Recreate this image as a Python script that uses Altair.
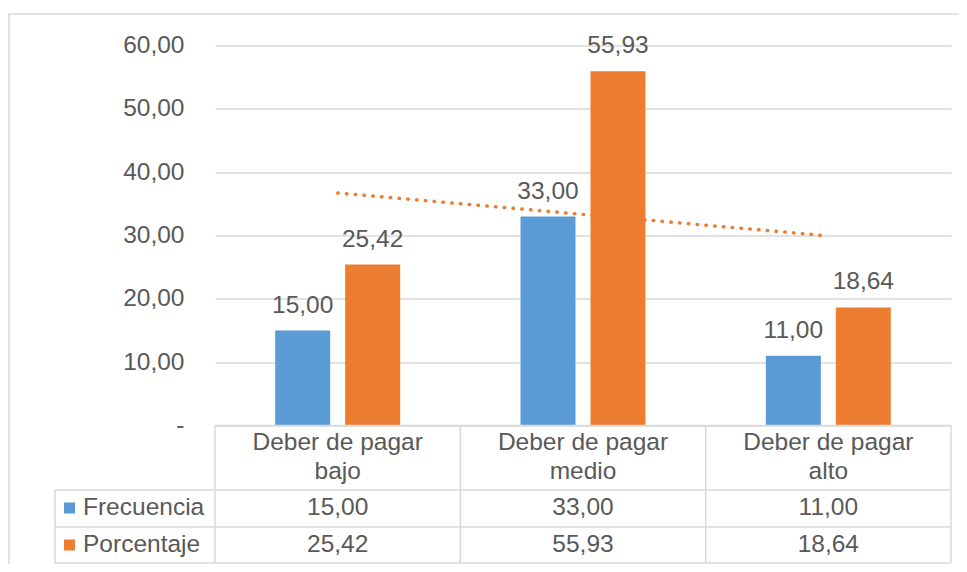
import altair as alt
import pandas as pd

categories = ["Deber de pagar bajo", "Deber de pagar medio", "Deber de pagar alto"]
series = ["Frecuencia", "Porcentaje"]
frecuencia = [15.00, 33.00, 11.00]
porcentaje = [25.42, 55.93, 18.64]
y_ticks = [0, 10, 20, 30, 40, 50, 60]

colors = ["#5B9BD5", "#ED7D31"]
TXT = "#595959"
GRID = "#D9D9D9"
FONT = "Liberation Sans"
FS = 24.5

rows = []
for i, c in enumerate(categories):
    rows.append({"cat": c, "series": "Frecuencia", "value": frecuencia[i], "idx": i + 1})
    rows.append({"cat": c, "series": "Porcentaje", "value": porcentaje[i], "idx": i + 1})
df = pd.DataFrame(rows)
cats_df = pd.DataFrame({"cat": categories})
one = pd.DataFrame({"k": [0]})

W, H = 736, 380
ROW_Y = {"Frecuencia": 462.5, "Porcentaje": 499.5}
LINES_Y = [444.5, 481.5, 517.5]

label_expr = "replace(format(datum.value, '.2f'), '.', ',')"

x_scale = alt.Scale(paddingInner=0, paddingOuter=0)
x_enc = alt.X("cat:N", sort=categories, scale=x_scale, axis=None)
xoff = alt.XOffset("series:N", sort=series,
                   scale=alt.Scale(paddingInner=0.214, paddingOuter=0.86))
y_enc = alt.Y(
    "value:Q",
    scale=alt.Scale(domain=[0, 60], nice=False, zero=True),
    axis=alt.Axis(
        values=y_ticks, title=None, domain=False, ticks=False, labelPadding=31,
        grid=True, gridColor=GRID, gridWidth=1.5,
        labelFont=FONT, labelFontSize=FS, labelColor=TXT,
        labelExpr="datum.value == 0 ? '-\u00a0\u00a0' : replace(format(datum.value, '.2f'), '.', ',')",
    ),
)
color_enc = alt.Color("series:N", sort=series,
                      scale=alt.Scale(domain=series, range=colors), legend=None)

base = alt.Chart(df)

frame = alt.Chart(one).mark_rect(fill="transparent", stroke=GRID, strokeWidth=1.5).encode(
    x=alt.value(-206), x2=alt.value(780), y=alt.value(-31.5), y2=alt.value(600)
)

bars = base.mark_bar().encode(x=x_enc, xOffset=xoff, y=y_enc, color=color_enc)

labels = base.transform_calculate(lbl=label_expr).mark_text(
    baseline="alphabetic", dy=-18, font=FONT, fontSize=FS, color=TXT
).encode(x=x_enc, xOffset=xoff, y="value:Q", text="lbl:N")

trend = base.transform_filter(alt.datum.series == "Porcentaje").transform_regression(
    "idx", "value", method="linear", extent=[1, 3]
).mark_line(color="#ED7D31", strokeWidth=3.5, strokeDash=[0.5, 8.3], strokeCap="round").encode(
    x=alt.X("idx:Q", scale=alt.Scale(domain=[0.5, 3.5], nice=False, zero=False), axis=None),
    y="value:Q",
)

# data table
table_top = alt.Chart(one).mark_rule(color=GRID, strokeWidth=1.5).encode(
    x=alt.value(0), x2=alt.value(W), y=alt.value(H)
)
hlines = [
    alt.Chart(one).mark_rule(color=GRID, strokeWidth=1.5).encode(
        x=alt.value(-160), x2=alt.value(W), y=alt.value(yy)
    )
    for yy in LINES_Y
]
vlines = alt.Chart(cats_df).mark_rule(color=GRID, strokeWidth=1.5).encode(
    x=alt.X("cat:N", sort=categories, scale=x_scale, axis=None, bandPosition=0),
    y=alt.value(H), y2=alt.value(LINES_Y[-1]),
)
vright = alt.Chart(one).mark_rule(color=GRID, strokeWidth=1.5).encode(
    x=alt.value(W), y=alt.value(H), y2=alt.value(LINES_Y[-1])
)
vleft = alt.Chart(one).mark_rule(color=GRID, strokeWidth=1.5).encode(
    x=alt.value(-160), y=alt.value(LINES_Y[0]), y2=alt.value(LINES_Y[-1])
)

header = alt.Chart(cats_df).transform_calculate(
    hdr="replace(datum.cat, 'pagar ', 'pagar\\n')"
).mark_text(
    font=FONT, fontSize=FS, color=TXT, lineBreak="\n", lineHeight=29, baseline="middle"
).encode(
    x=alt.X("cat:N", sort=categories, scale=x_scale, axis=None),
    y=alt.value(397.5), text="hdr:N",
)

table_layers = []
for s, col in zip(series, colors):
    sub = base.transform_filter(alt.datum.series == s).transform_calculate(lbl=label_expr)
    table_layers.append(
        sub.mark_text(font=FONT, fontSize=FS, color=TXT, baseline="middle").encode(
            x=x_enc, y=alt.value(ROW_Y[s]), text="lbl:N"
        )
    )
    table_layers.append(
        alt.Chart(pd.DataFrame({"series": [s]})).mark_square(size=121, opacity=1, color=col).encode(
            x=alt.value(-145.5), y=alt.value(ROW_Y[s])
        )
    )
    table_layers.append(
        alt.Chart(pd.DataFrame({"series": [s]})).mark_text(
            font=FONT, fontSize=FS, color=TXT, align="left", baseline="middle"
        ).encode(x=alt.value(-132), y=alt.value(ROW_Y[s]), text="series:N")
    )

chart = alt.layer(
    frame, bars, labels, trend, table_top, *hlines, vlines, vright, vleft, header, *table_layers
).resolve_scale(x="independent").properties(
    width=W, height=H,
    autosize=alt.AutoSizeParams(type="none"),
    padding={"left": 207, "top": 37.5, "right": 8, "bottom": 138.5},
).configure_view(strokeWidth=0)

chart.save("out.html", embed_options={"renderer": "svg", "actions": False})
